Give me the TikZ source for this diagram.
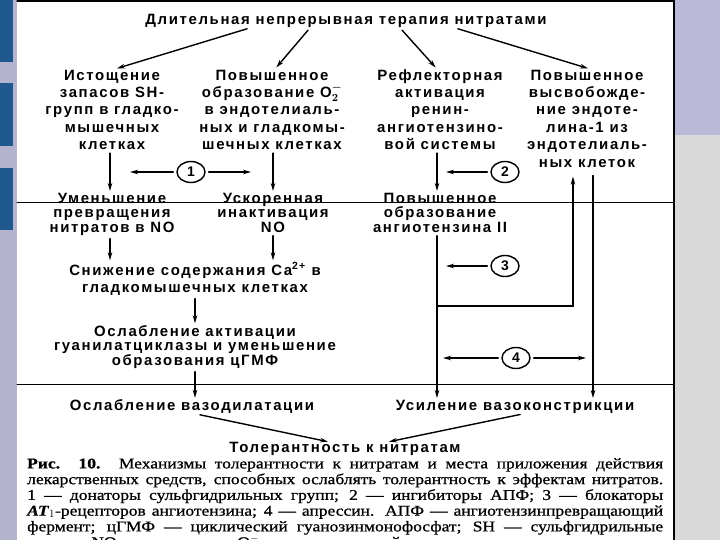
\documentclass[tikz,border=0pt]{standalone}
\usepackage{fontspec}
\usepackage{amsmath}
\usetikzlibrary{arrows.meta,shapes.geometric}
\setmainfont{Liberation Sans}
\newfontfamily\diagfont[LetterSpace=11]{Liberation Sans}
\newfontfamily\capfont[FakeStretch=1.17,FakeBold=0.8]{Liberation Serif}
\definecolor{slidelav}{RGB}{186,186,216}
\definecolor{striplav}{RGB}{180,180,206}
\definecolor{slidegray}{RGB}{217,217,217}
\definecolor{barblue}{RGB}{30,88,140}

\begin{document}
\begin{tikzpicture}[x=1bp,y=-1bp,line cap=round,
  txt/.style={font=\diagfont\bfseries\boldmath\fontsize{15}{17.5}\selectfont,align=center,inner sep=0pt},
  txs/.style={font=\diagfont\bfseries\boldmath\fontsize{15}{14.5}\selectfont,align=center,inner sep=0pt},
  ar/.style={-{Stealth[length=8bp,width=4.5bp]},line width=1.4bp,shorten <=3bp,shorten >=2bp},
  num/.style={draw,ellipse,line width=1.4bp,minimum width=28bp,minimum height=21bp,inner sep=0pt,font=\diagfont\bfseries\fontsize{14}{14}\selectfont}]
  \clip (0,0) rectangle (720,540);
  \fill[white] (0,0) rectangle (720,540);
  \fill[striplav] (0,0) rectangle (17,540);
  \foreach \ya/\yb in {0/62,83/146,168/230} \fill[barblue] (0,\ya) rectangle (13,\yb);
  \fill[slidelav] (674,0) rectangle (720,135);
  \fill[slidegray] (674,135) rectangle (720,540);
  \draw[line width=1.2bp] (17,1) -- (674,1);
  \draw[line width=1.2bp] (674,0) -- (674,540);
  \draw[line width=1bp] (17,203) -- (674,203);
  \draw[line width=1bp] (17,384) -- (674,384);

  \node[txt] (title) at (346,21) {Длительная непрерывная терапия нитратами};
  \node[txt,anchor=north] (sh) at (112,69) {\vphantom{Рф}Истощение\\запасов SH-\\групп в гладко-\\мышечных\\клетках};
  \node[txt,anchor=north] (oxy) at (272,69) {\vphantom{Рф}Повышенное\\образование O$_2^-$\\в эндотелиаль-\\ных и гладкомы-\\шечных клетках};
  \node[txt,anchor=north] (ras) at (440,69) {\vphantom{Рф}Рефлекторная\\активация\\ренин-\\ангиотензино-\\вой системы};
  \node[txt,anchor=north] (endo) at (587,69) {\vphantom{Рф}Повышенное\\высвобожде-\\ние эндоте-\\лина-1 из\\эндотелиаль-\\ных клеток};
  \node[txs,anchor=north] (noconv) at (112,193) {Уменьшение\\превращения\\нитратов в NO};
  \node[txs,anchor=north] (noinact) at (273,193) {Ускоренная\\инактивация\\NO};
  \node[txs,anchor=north] (ang) at (440,193) {Повышенное\\образование\\ангиотензина II};
  \node[txt] (ca) at (195,279) {Снижение содержания Ca\textsuperscript{2+} в\\гладкомышечных клетках};
  \node[txs] (gc) at (195,347) {Ослабление активации\\гуанилатциклазы и уменьшение\\образования цГМФ};
  \node[txt] (vdil) at (192,407) {Ослабление вазодилатации};
  \node[txt] (vcon) at (515,407) {Усиление вазоконстрикции};
  \node[txt] (tol) at (345,449) {Толерантность к нитратам};

  \node[num] (n1) at (191,172) {1};
  \node[num] (n2) at (505,172) {2};
  \node[num] (n3) at (505,266) {3};
  \node[num] (n4) at (516,358) {4};

  \coordinate (e1l) at (128,172);
  \coordinate (e1r) at (253,172);
  \coordinate (e2) at (444,172);
  \coordinate (e3) at (444,266);
  \coordinate (e4l) at (441,358);
  \coordinate (e4r) at (588,358);
  \coordinate (fork) at (437,306);

  \draw[ar] ([xshift=-96bp]title.south) -- ([xshift=3bp]sh.north);
  \draw[ar] ([xshift=-36bp]title.south) -- ([xshift=3bp]oxy.north);
  \draw[ar] ([xshift=54bp]title.south) -- ([xshift=-3bp]ras.north);
  \draw[ar] ([xshift=109bp]title.south) -- ([xshift=3bp]endo.north);

  \draw[ar] ([xshift=-2bp]sh.south) -- ([xshift=-2bp]noconv.north);
  \draw[ar] ([xshift=1bp]oxy.south) -- (noinact.north);
  \draw[ar] ([xshift=-3bp]ras.south) -- ([xshift=-3bp]ang.north);
  \draw[ar] (n1.west) -- (e1l);
  \draw[ar] (n1.east) -- (e1r);
  \draw[ar] (n2.west) -- (e2);
  \draw[ar] (n3.west) -- (e3);
  \draw[ar] (n4.west) -- (e4l);
  \draw[ar] (n4.east) -- (e4r);

  \draw[ar] ([xshift=-2bp]noconv.south) -- ([xshift=-2bp]noconv.south |- ca.north);
  \draw[ar] (noinact.south) -- (noinact.south |- ca.north);
  \draw[ar] (ca.south) -- (gc.north);
  \draw[ar] (gc.south) -- (gc.south |- vdil.north);
  \draw[ar] ([xshift=-3bp]ang.south) -- ([xshift=-3bp]ang.south |- vcon.north);
  \draw[ar,shorten <=0bp] (fork) -| ([xshift=-14bp,yshift=-7bp]endo.south);
  \draw[ar] ([xshift=6bp,yshift=-5bp]endo.south) -- ([xshift=6bp]endo.south |- vcon.north);

  \draw[ar] ([xshift=5bp]vdil.south) -- ([xshift=-15bp]tol.north);
  \draw[ar] ([xshift=8bp]vcon.south) -- ([xshift=42bp]tol.north);

  \node[font=\capfont\fontsize{15}{15.8}\selectfont,align=left,inner sep=0pt,anchor=north west] (cap) at (27,458) {%
    \makebox[636bp][s]{\textbf{Рис. 10.} Механизмы толерантности к нитратам и места приложения действия}\\
    \makebox[636bp][s]{лекарственных средств, способных ослаблять толерантность к эффектам нитратов.}\\
    \makebox[636bp][s]{1 — донаторы сульфгидрильных групп; 2 — ингибиторы АПФ; 3 — блокаторы}\\
    \makebox[636bp][s]{\textbf{\textit{AT}}$_1$-рецепторов ангиотензина; 4 — апрессин. АПФ — ангиотензинпревращающий}\\
    \makebox[636bp][s]{фермент; цГМФ — циклический гуанозинмонофосфат; SH — сульфгидрильные}\\
    группы; NO — окись азота; O$_2^-$ — супероксидный радикал.};
\end{tikzpicture}
\end{document}
